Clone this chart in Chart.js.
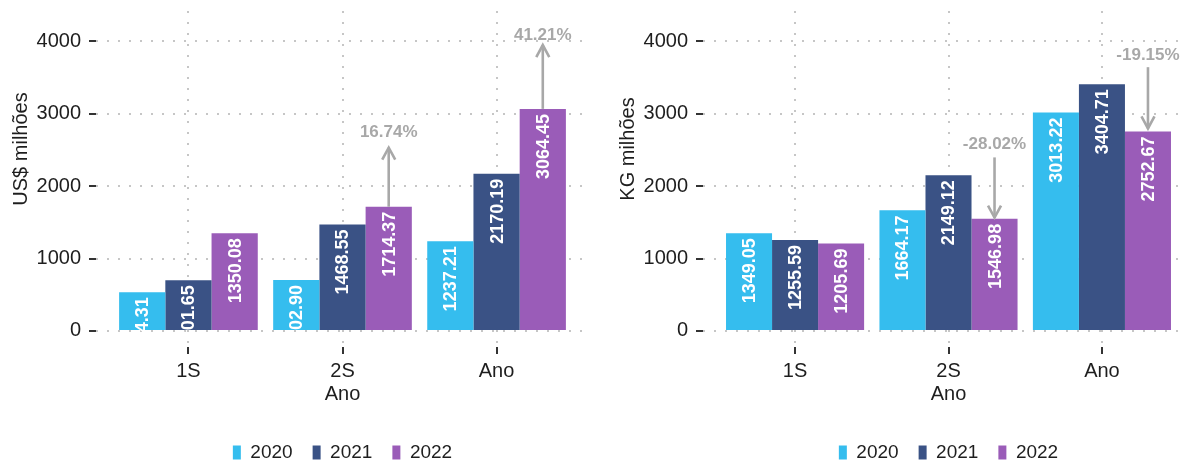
<!DOCTYPE html>
<html lang="pt">
<head>
<meta charset="utf-8">
<title>Valor e volume por semestre</title>
<script src="https://cdn.jsdelivr.net/npm/chart.js@4.4.1/dist/chart.umd.min.js"></script>
<style>
  html, body { margin: 0; padding: 0; background: #fff; overflow: hidden; }
  body { width: 1180px; height: 463px; position: relative; }
  .panel { position: absolute; top: 0; height: 480px; }
  #usd-wrap { left: 0; width: 590px; }
  #kg-wrap  { left: 590px; width: 604px; }
</style>
</head>
<body>
<div class="panel" id="usd-wrap"><canvas id="usd-chart"></canvas></div>
<div class="panel" id="kg-wrap"><canvas id="kg-chart"></canvas></div>

<script>
/* ─── Data ──────────────────────────────────────────────────────────────────── */

const categories = ['1S', '2S', 'Ano'];
const years      = ['2020', '2021', '2022'];
const yTicks     = [0, 1000, 2000, 3000, 4000];

const usd2020 = [534.31, 702.90, 1237.21];
const usd2021 = [701.65, 1468.55, 2170.19];
const usd2022 = [1350.08, 1714.37, 3064.45];

const kg2020 = [1349.05, 1664.17, 3013.22];
const kg2021 = [1255.59, 2149.12, 3404.71];
const kg2022 = [1205.69, 1546.98, 2752.67];

// variation notes above the 2022 bars (category index, text, arrow from/to, label value)
const usdNoteIdx   = [1, 2];
const usdNoteText  = ['16.74%', '41.21%'];
const usdArrowFrom = [1714.37, 3064.45];
const usdArrowTo   = [2530, 3945];
const usdNoteAt    = [2740, 4085];

const kgNoteIdx   = [1, 2];
const kgNoteText  = ['-28.02%', '-19.15%'];
const kgArrowFrom = [2395, 3640];
const kgArrowTo   = [1565, 2795];
const kgNoteAt    = [2575, 3805];

/* ─── Style ─────────────────────────────────────────────────────────────────── */

const FONT_FAMILY = '"Liberation Sans", Arial, sans-serif';
const COLORS      = ['#35bdee', '#3a5285', '#9a5cb8'];
const TEXT_COLOR  = '#1e1e1e';
const GRID_COLOR  = '#c6c6c6';
const NOTE_COLOR  = '#a8a8a8';

Chart.defaults.font.family = FONT_FAMILY;

/* ─── Plugins ───────────────────────────────────────────────────────────────── */

// white rotated value inside each bar, ending just under the bar top
const barLabels = {
  id: 'barLabels',
  afterDatasetsDraw(chart) {
    const { ctx, chartArea: a } = chart;
    ctx.save();
    ctx.beginPath();
    ctx.rect(a.left, a.top, a.right - a.left, a.bottom - a.top);
    ctx.clip();
    ctx.fillStyle    = '#fff';
    ctx.font         = `bold 18px ${FONT_FAMILY}`;
    ctx.textAlign    = 'right';
    ctx.textBaseline = 'middle';
    chart.data.datasets.forEach((ds, i) => {
      chart.getDatasetMeta(i).data.forEach((bar, j) => {
        ctx.save();
        ctx.translate(bar.x + 1, bar.y + 5);
        ctx.rotate(-Math.PI / 2);
        ctx.fillText(ds.data[j].y.toFixed(2), 0, 0);
        ctx.restore();
      });
    });
    ctx.restore();
  }
};

// grey arrows + percent text over the 2022 bars
const notes = {
  id: 'notes',
  afterDatasetsDraw(chart, args, opts) {
    const { ctx } = chart;
    const y    = chart.scales.y;
    const bars = chart.getDatasetMeta(2).data;
    ctx.save();
    ctx.strokeStyle  = NOTE_COLOR;
    ctx.fillStyle    = NOTE_COLOR;
    ctx.lineWidth    = 2.6;
    ctx.font         = `bold 17px ${FONT_FAMILY}`;
    ctx.textAlign    = 'center';
    ctx.textBaseline = 'middle';
    opts.idx.forEach((ci, k) => {
      const x  = bars[ci].x;
      const y0 = y.getPixelForValue(opts.from[k]);
      const y1 = y.getPixelForValue(opts.to[k]);
      const dir = y1 < y0 ? 1 : -1;
      ctx.beginPath();
      ctx.moveTo(x, y0);
      ctx.lineTo(x, y1);
      ctx.stroke();
      ctx.beginPath();
      ctx.moveTo(x - 6.5, y1 + dir * 12);
      ctx.lineTo(x, y1);
      ctx.lineTo(x + 6.5, y1 + dir * 12);
      ctx.stroke();
      ctx.fillText(opts.text[k], x, y.getPixelForValue(opts.at[k]));
    });
    ctx.restore();
  }
};

// rotated y title, sitting a bit above the panel middle like the original
const yTitle = {
  id: 'yTitle',
  afterDraw(chart, args, opts) {
    const { ctx, chartArea: a } = chart;
    ctx.save();
    ctx.translate(a.left - 75, a.top + 138);
    ctx.rotate(-Math.PI / 2);
    ctx.font         = `20px ${FONT_FAMILY}`;
    ctx.fillStyle    = TEXT_COLOR;
    ctx.textAlign    = 'center';
    ctx.textBaseline = 'middle';
    ctx.fillText(opts.text, 0, 0);
    ctx.restore();
  }
};

/* ─── Panels ────────────────────────────────────────────────────────────────── */

function makePanel(canvasId, series, axisWidth, padRight, title, noteOpts) {
  const datasets = series.map((vals, i) => ({
    label:              years[i],
    data:               vals.map((v, j) => ({ x: j + 1, y: v })),
    backgroundColor:    COLORS[i],
    borderWidth:        0,
    categoryPercentage: 0.9,
    barPercentage:      1,
  }));

  const grid = {
    offset:     false,
    color:      GRID_COLOR,
    lineWidth:  2,
    tickColor:  '#333',
    tickLength: 7,
    tickWidth:  2,
  };

  return new Chart(document.getElementById(canvasId), {
    type: 'bar',
    data: { datasets },
    options: {
      responsive: true,
      maintainAspectRatio: false,
      animation: false,
      layout: { padding: { top: 11, right: padRight, bottom: 8, left: 0 } },
      scales: {
        x: {
          type:   'linear',
          offset: false,
          min:    0.4,
          max:    3.6,
          afterBuildTicks: s => { s.ticks = categories.map((c, i) => ({ value: i + 1 })); },
          ticks: {
            callback:    v => categories[v - 1],
            font:        { size: 20 },
            color:       TEXT_COLOR,
            padding:     5,
            autoSkip:    false,
            maxRotation: 0,
          },
          grid,
          border: { display: false, dash: [2, 9] },
          title: {
            display: true,
            text:    'Ano',
            font:    { size: 20 },
            color:   TEXT_COLOR,
            padding: { top: -6, bottom: 17 },
          },
        },
        y: {
          min: -221,
          max: 4415,
          afterBuildTicks: s => { s.ticks = yTicks.map(v => ({ value: v })); },
          afterFit: s => {
            s.width = axisWidth;
            s.paddingTop = 0;
            s.paddingBottom = 0;
          },
          ticks: {
            callback: v => String(v),
            font:     { size: 20 },
            color:    TEXT_COLOR,
            padding:  8,
          },
          grid,
          border: { display: false, dash: [2, 9] },
        },
      },
      plugins: {
        legend: {
          position: 'bottom',
          fullSize: false,
          labels: {
            boxWidth:  8,
            boxHeight: 14,
            padding:   20,
            font:      { size: 19 },
            color:     TEXT_COLOR,
          },
        },
        tooltip: { enabled: false },
        notes:   noteOpts,
        yTitle:  { text: title },
      },
    },
    plugins: [barLabels, notes, yTitle],
  });
}

makePanel('usd-chart', [usd2020, usd2021, usd2022], 96, 1, 'US$ milhões', {
  idx: usdNoteIdx, text: usdNoteText, from: usdArrowFrom, to: usdArrowTo, at: usdNoteAt,
});

makePanel('kg-chart', [kg2020, kg2021, kg2022], 113, 0, 'KG milhões', {
  idx: kgNoteIdx, text: kgNoteText, from: kgArrowFrom, to: kgArrowTo, at: kgNoteAt,
});
</script>
</body>
</html>
